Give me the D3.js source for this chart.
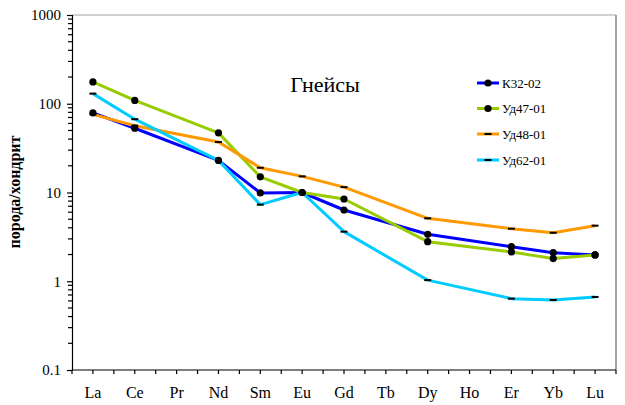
<!DOCTYPE html>
<html>
<head>
<meta charset="utf-8">
<script src="https://cdn.jsdelivr.net/npm/d3@7/dist/d3.min.js"></script>
<style>
  html, body { margin: 0; padding: 0; background: #fff; }
  svg { display: block; }
  svg text { font-family: "Times New Roman", "Liberation Serif", Times, serif; fill: #000; }
</style>
</head>
<body>
<svg id="chart" width="625" height="405"></svg>
<script>
// REE elements, chondrite-normalised (null = not determined)
const elements = ["La", "Ce", "Pr", "Nd", "Sm", "Eu", "Gd", "Tb", "Dy", "Ho", "Er", "Yb", "Lu"];

const k3202  = [79, 53, null, 23, 9.9, 10.0, 6.35, null, 3.38, null, 2.45, 2.10, 1.98];
const ud4701 = [176, 109, null, 47, 15, 10.0, 8.45, null, 2.79, null, 2.14, 1.80, 1.98];
const ud4801 = [76, 56.6, null, 37, 19, 15.2, 11.5, null, 5.12, null, 3.91, 3.52, 4.23];
const ud6201 = [130, 67, null, 23, 7.3, 10.0, 3.62, null, 1.03, null, 0.637, 0.615, 0.665];

const seriesNames  = ["К32-02", "Уд47-01", "Уд48-01", "Уд62-01"];
const seriesColors = ["#0000ff", "#99cc00", "#ff9900", "#00ccff"];
const seriesMarker = ["circle", "circle", "dash", "dash"];
const seriesValues = [k3202, ud4701, ud4801, ud6201];

const yTicks = [0.1, 1, 10, 100, 1000];
const yTitle = "порода/хондрит";
const chartTitle = "Гнейсы";

const FONT = "'Times New Roman', 'Liberation Serif', Times, serif";
const svg = d3.select("#chart");
const plot = { left: 72, right: 616, top: 15, bottom: 370 };

const x = d3.scaleBand().domain(elements).range([plot.left, plot.right]).paddingInner(0).paddingOuter(0);
const y = d3.scaleLog().domain([0.1, 1000]).range([plot.bottom, plot.top]);

// plot-area frame: top and right sides
svg.append("line").attr("x1", plot.left).attr("x2", plot.right).attr("y1", plot.top).attr("y2", plot.top)
  .attr("stroke", "#a6a6a6").attr("stroke-width", 1.2);
svg.append("line").attr("x1", plot.right).attr("x2", plot.right).attr("y1", plot.top).attr("y2", plot.bottom)
  .attr("stroke", "#8c8c8c").attr("stroke-width", 1.6);

// Y axis: decades labelled, minor ticks 2..9 unlabeled
const minorTicks = [];
for (let e = -1; e < 3; e++) for (let m = 2; m <= 9; m++) minorTicks.push(m * Math.pow(10, e));

const yAxisG = svg.append("g").attr("transform", `translate(${plot.left},0)`);
yAxisG.call(d3.axisLeft(y).tickValues(yTicks).tickSize(5).tickFormat(d => String(d)))
  .attr("font-family", FONT)
  .call(g => g.select(".domain").attr("stroke", "#000").attr("stroke-width", 1.2))
  .call(g => g.selectAll(".tick line").attr("stroke", "#000").attr("stroke-width", 1.2))
  .call(g => g.selectAll(".tick text").attr("font-size", 15).attr("fill", "#000").attr("x", -11));
yAxisG.selectAll(".minor").data(minorTicks).enter().append("line")
  .attr("x1", -4).attr("x2", 0).attr("y1", d => y(d)).attr("y2", d => y(d))
  .attr("stroke", "#000").attr("stroke-width", 1.2);

// X axis: ticks at category boundaries and centres
const xAxisG = svg.append("g").attr("transform", `translate(0,${plot.bottom})`);
xAxisG.append("line").attr("x1", plot.left).attr("x2", plot.right).attr("y1", 0).attr("y2", 0)
  .attr("stroke", "#000").attr("stroke-width", 1.2);
const halfSteps = d3.range(0, elements.length * 2 + 1).map(i => plot.left + i * x.bandwidth() / 2);
xAxisG.selectAll(".xt").data(halfSteps).enter().append("line")
  .attr("x1", d => d).attr("x2", d => d).attr("y1", 0).attr("y2", 4)
  .attr("stroke", "#000").attr("stroke-width", 1.2);
xAxisG.selectAll(".xl").data(elements).enter().append("text")
  .attr("x", d => x(d) + x.bandwidth() / 2).attr("y", 28)
  .attr("text-anchor", "middle").attr("font-size", 16)
  .text(d => d);

// Y axis title
svg.append("text")
  .attr("transform", `translate(20,192) rotate(-90)`)
  .attr("text-anchor", "middle").attr("font-size", 16).attr("font-weight", "bold")
  .text(yTitle);

// Chart title
svg.append("text").attr("x", 325).attr("y", 92).attr("text-anchor", "middle")
  .attr("font-size", 22).text(chartTitle);

const cx = d => x(d) + x.bandwidth() / 2;
const line = d3.line().x(d => cx(d.el)).y(d => y(d.v));

function drawMarker(g, type, px, py) {
  if (type === "circle") {
    g.append("circle").attr("cx", px).attr("cy", py).attr("r", 3.6).attr("fill", "#000");
  } else {
    g.append("rect").attr("x", px - 3.5).attr("y", py - 1).attr("width", 7).attr("height", 2).attr("fill", "#000");
  }
}

// series lines (gaps are bridged), then markers
seriesValues.forEach((vals, i) => {
  const pts = elements.map((el, j) => ({ el, v: vals[j] })).filter(p => p.v != null);
  svg.append("path").datum(pts).attr("d", line)
    .attr("fill", "none").attr("stroke", seriesColors[i]).attr("stroke-width", 3)
    .attr("stroke-linejoin", "round");
});
seriesValues.forEach((vals, i) => {
  const g = svg.append("g");
  elements.forEach((el, j) => {
    if (vals[j] != null) drawMarker(g, seriesMarker[i], cx(el), y(vals[j]));
  });
});

// Legend
const legendY = [83, 108.5, 134, 160];
seriesNames.forEach((name, i) => {
  const g = svg.append("g");
  g.append("line").attr("x1", 477).attr("x2", 499).attr("y1", legendY[i]).attr("y2", legendY[i])
    .attr("stroke", seriesColors[i]).attr("stroke-width", 3);
  drawMarker(g, seriesMarker[i], 488, legendY[i]);
  g.append("text").attr("x", 502).attr("y", legendY[i] + 4.5).attr("font-size", 13).text(name);
});
</script>
</body>
</html>
